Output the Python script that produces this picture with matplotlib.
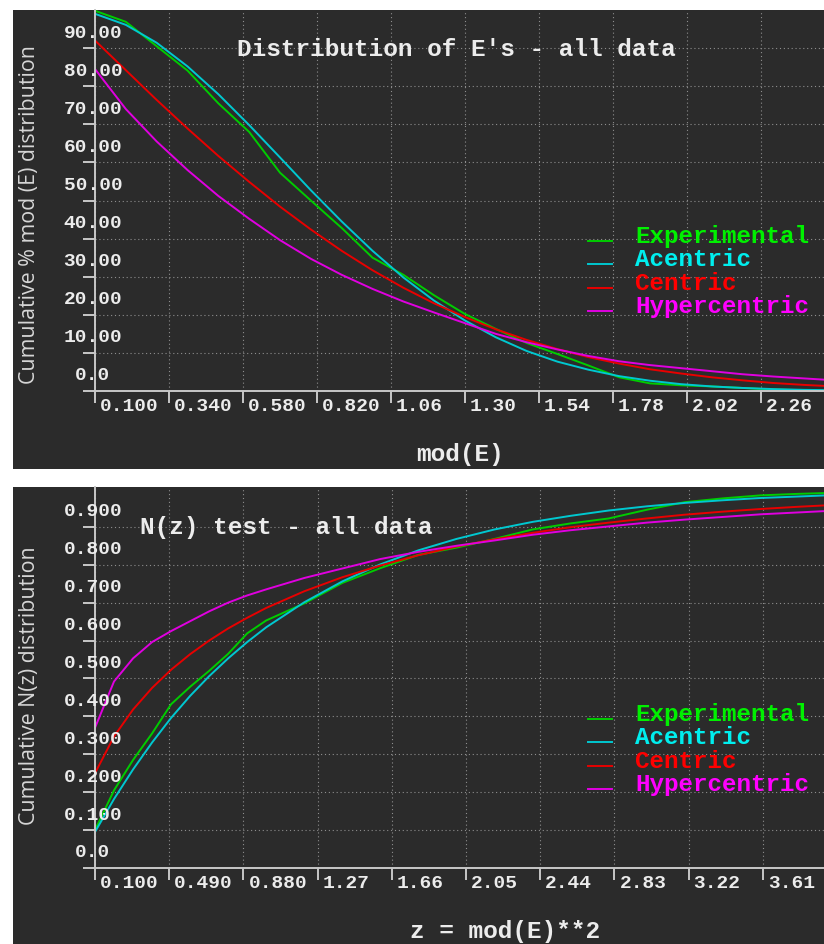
import matplotlib
matplotlib.use("Agg")
import matplotlib.pyplot as plt
from matplotlib.patches import Rectangle
from matplotlib import transforms as mtrans
from matplotlib.legend_handler import HandlerLine2D

# ---------------- data: top panel (mod(E)) ----------------
e_x = [0.1, 0.2, 0.3, 0.4, 0.5, 0.6, 0.7, 0.8, 0.9, 1.0, 1.1, 1.2, 1.3,
       1.4, 1.5, 1.6, 1.7, 1.8, 1.9, 2.0, 2.1, 2.2, 2.3, 2.4, 2.5]
e_experimental = [99.8, 96.9, 90.5, 84.1, 75.5, 68.0, 57.3, 50.0, 42.8, 35.0,
                  30.5, 25.1, 20.2, 16.3, 12.6, 9.7, 6.7, 3.6, 2.0, 1.5,
                  1.2, 0.8, 0.4, 0.2, 0.1]
e_acentric = [99.0, 96.1, 91.4, 85.2, 77.9, 69.8, 61.3, 52.7, 44.5, 36.8,
              29.8, 23.7, 18.5, 14.1, 10.5, 7.7, 5.6, 3.9, 2.7, 1.8,
              1.2, 0.8, 0.5, 0.3, 0.2]
e_centric = [92.0, 84.2, 76.4, 68.9, 61.7, 54.9, 48.4, 42.4, 36.8, 31.7,
             27.1, 23.0, 19.4, 16.2, 13.4, 11.0, 8.9, 7.2, 5.7, 4.6,
             3.6, 2.8, 2.1, 1.6, 1.2]
e_hypercentric = [84.5, 74.0, 65.5, 58.0, 51.2, 45.2, 39.6, 34.7, 30.5, 26.8,
                  23.5, 20.6, 17.8, 15.0, 12.8, 10.9, 9.2, 7.8, 6.8, 6.0,
                  5.2, 4.4, 3.8, 3.3, 2.8]
e_xticks = [0.10, 0.34, 0.58, 0.82, 1.06, 1.30, 1.54, 1.78, 2.02, 2.26]
e_xtick_labels = ["0.100", "0.340", "0.580", "0.820", "1.06", "1.30",
                  "1.54", "1.78", "2.02", "2.26"]
e_yticks = [0, 10, 20, 30, 40, 50, 60, 70, 80, 90]
e_ytick_labels = ["0.0", "10.00", "20.00", "30.00", "40.00", "50.00",
                  "60.00", "70.00", "80.00", "90.00"]

# ---------------- data: bottom panel (N(z)) ----------------
z_x = [0.1, 0.2, 0.3, 0.4, 0.5, 0.6, 0.7, 0.8, 0.9, 1.0, 1.2, 1.4, 1.6,
       1.8, 2.0, 2.2, 2.4, 2.6, 2.8, 3.0, 3.2, 3.4, 3.6, 3.8, 4.0]
z_experimental = [0.100, 0.205, 0.285, 0.355, 0.432, 0.478, 0.520, 0.565,
                  0.619, 0.653, 0.698, 0.752, 0.791, 0.826, 0.845, 0.868,
                  0.893, 0.909, 0.922, 0.945, 0.965, 0.975, 0.983, 0.987,
                  0.990]
z_acentric = [0.095, 0.182, 0.260, 0.331, 0.396, 0.454, 0.506, 0.553, 0.596,
              0.635, 0.701, 0.756, 0.801, 0.838, 0.868, 0.893, 0.913, 0.929,
              0.943, 0.954, 0.963, 0.970, 0.976, 0.980, 0.984]
z_centric = [0.250, 0.347, 0.418, 0.475, 0.523, 0.564, 0.600, 0.632, 0.660,
             0.686, 0.730, 0.767, 0.798, 0.825, 0.848, 0.867, 0.884, 0.899,
             0.911, 0.922, 0.932, 0.940, 0.947, 0.953, 0.958]
z_hypercentric = [0.370, 0.492, 0.553, 0.596, 0.625, 0.651, 0.677, 0.700,
                  0.719, 0.735, 0.765, 0.790, 0.815, 0.834, 0.850, 0.864,
                  0.879, 0.891, 0.901, 0.911, 0.919, 0.926, 0.933, 0.938,
                  0.943]
z_xticks = [0.10, 0.49, 0.88, 1.27, 1.66, 2.05, 2.44, 2.83, 3.22, 3.61]
z_xtick_labels = ["0.100", "0.490", "0.880", "1.27", "1.66", "2.05",
                  "2.44", "2.83", "3.22", "3.61"]
z_yticks = [0.0, 0.1, 0.2, 0.3, 0.4, 0.5, 0.6, 0.7, 0.8, 0.9]
z_ytick_labels = ["0.0", "0.100", "0.200", "0.300", "0.400", "0.500",
                  "0.600", "0.700", "0.800", "0.900"]

series_names = ["Experimental", "Acentric", "Centric", "Hypercentric"]
line_colors = ["#00cc00", "#00c8d0", "#e80000", "#e000e0"]
text_colors = ["#00f000", "#00eeee", "#ff0000", "#ff00ff"]

# ---------------- styling ----------------
W, H = 824, 945
BG = "#2b2b2b"
AXC = "#c8c8c8"
TXT = "#ececec"
MONO = "Liberation Mono"

fig = plt.figure(figsize=(W / 100, H / 100), dpi=100, facecolor="white")


def fx(px):
    return px / W


def fy(py):
    return 1 - py / H


class LowLine(HandlerLine2D):
    """Legend sample drawn near the text baseline, as in the reference."""

    def create_artists(self, legend, orig_handle, xdescent, ydescent, width,
                       height, fontsize, trans):
        arts = super().create_artists(legend, orig_handle, xdescent, ydescent,
                                      width, height, fontsize, trans)
        for a in arts:
            a.set_ydata([y - 0.3 * fontsize for y in a.get_ydata()])
        return arts


# dark panels (behind the axes)
for top, bot in [(11, 470), (488, 945)]:
    fig.patches.append(Rectangle((fx(13), fy(bot)), fx(W - 13), (bot - top) / H,
                                 transform=fig.transFigure, facecolor=BG,
                                 edgecolor="none", zorder=-10))


def make_panel(top_px, bot_px, xs, series, xlim, ylim, xticks, xlabels,
               yticks, ylabels, title, title_xy, xlabel, xlabel_xy,
               ylabel, ylabel_y, legend_top):
    ax = fig.add_axes([fx(95), fy(bot_px), 1 - fx(95), (bot_px - top_px) / H])
    ax.set_zorder(1)
    ax.set_facecolor(BG)
    for vals, c in zip(series, line_colors):
        ax.plot(xs, vals, color=c, lw=1.4, solid_joinstyle="round")
    ax.set_xlim(*xlim)
    ax.set_ylim(*ylim)
    ax.set_xticks(xticks)
    ax.set_yticks(yticks)
    ax.tick_params(axis="both", direction="out", length=8.6, width=1.4,
                   color=AXC, labelbottom=False, labelleft=False)
    ax.grid(True, color="#8e8e8e", lw=0.8, linestyle=(0, (1, 2.5)))
    for s in ["top", "right"]:
        ax.spines[s].set_visible(False)
    for s in ["left", "bottom"]:
        ax.spines[s].set_color(AXC)
        ax.spines[s].set_linewidth(1.4)

    # tick labels
    xtr = mtrans.offset_copy(ax.transData, fig=fig, x=5, y=-15, units="dots")
    for v, lab in zip(xticks, xlabels):
        ax.text(v, ylim[0], lab, transform=xtr, ha="left", va="center",
                family=MONO, weight="bold", size=14, color=TXT, clip_on=False)
    ytr = mtrans.offset_copy(mtrans.blended_transform_factory(ax.transAxes, ax.transData),
                             fig=fig, x=-2, y=16, units="dots")
    for v, lab in zip(yticks, ylabels):
        ax.text(0, v, lab, transform=ytr, ha="center", va="center",
                family=MONO, weight="bold", size=14, color=TXT, clip_on=False)

    fig.text(fx(title_xy[0]), fy(title_xy[1]), title, ha="left", va="baseline",
             family=MONO, weight="bold", size=17.6, color=TXT, zorder=5)
    fig.text(fx(xlabel_xy[0]), fy(xlabel_xy[1]), xlabel, ha="left", va="baseline",
             family=MONO, weight="bold", size=17.6, color=TXT, zorder=5)
    fig.text(fx(30), fy(ylabel_y), ylabel, rotation=90, ha="center", va="center",
             family="Open Sans", size=15.4, color="#d6d6d6", zorder=5)

    leg = ax.legend(ax.get_lines(), series_names, loc="upper left",
                    bbox_to_anchor=(fx(588), fy(legend_top)),
                    bbox_transform=fig.transFigure, frameon=False,
                    prop={"family": MONO, "weight": "bold", "size": 17.5},
                    handlelength=1.0, handletextpad=0.95, labelspacing=0.02,
                    borderpad=0, borderaxespad=0,
                    handler_map={matplotlib.lines.Line2D: LowLine()})
    for t, c in zip(leg.get_texts(), text_colors):
        t.set_color(c)
    return ax


make_panel(11, 392, e_x,
           [e_experimental, e_acentric, e_centric, e_hypercentric],
           (0.1, 0.1 + (W - 95) / 74 * 0.24), (0, 100),
           e_xticks, e_xtick_labels, e_yticks, e_ytick_labels,
           "Distribution of E's - all data", (237, 55.5),
           "mod(E)", (416, 461),
           "Cumulative % mod (E) distribution", 215, 225)

make_panel(488, 869, z_x,
           [z_experimental, z_acentric, z_centric, z_hypercentric],
           (0.1, 0.1 + (W - 95) / 74.2 * 0.39), (0, 1.005),
           z_xticks, z_xtick_labels, z_yticks, z_ytick_labels,
           "N(z) test - all data", (140, 534),
           "z = mod(E)**2", (410, 938),
           "Cumulative N(z) distribution", 686, 703)

fig.savefig("out.png", dpi=100, facecolor="white")
